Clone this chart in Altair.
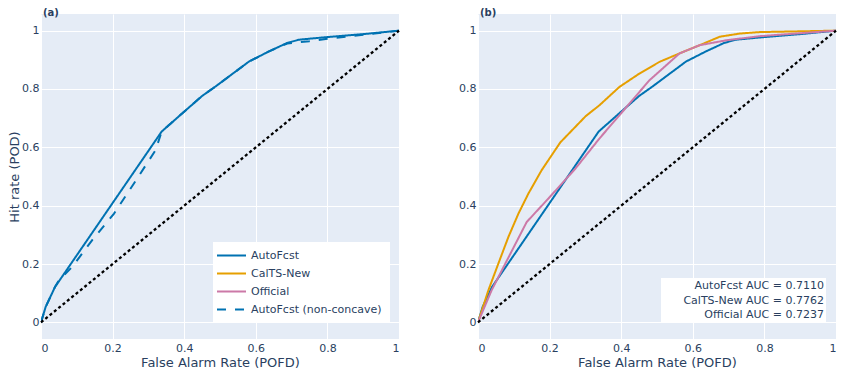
import altair as alt
import pandas as pd

# ---------------- data ----------------
series_names = ["AutoFcst", "CalTS-New", "Official", "AutoFcst (non-concave)"]
series_colors = ["#0072B2", "#E69F00", "#CC79A7", "#0072B2"]
series_dash = [[1, 0], [1, 0], [1, 0], [9, 9]]

auto_fpr = [0, 0.013, 0.039, 0.337, 0.395, 0.45, 0.488, 0.581, 0.637, 0.688, 0.721, 0.80, 0.90, 1.0]
auto_pod = [0, 0.053, 0.121, 0.654, 0.717, 0.776, 0.809, 0.894, 0.929, 0.958, 0.969, 0.978, 0.988, 1.0]

nonc_fpr = [0, 0.013, 0.039, 0.05, 0.087, 0.143, 0.204, 0.26, 0.32, 0.337, 0.395, 0.45, 0.488,
            0.581, 0.637, 0.688, 0.75, 0.80, 0.90, 1.0]
nonc_pod = [0, 0.053, 0.121, 0.144, 0.19, 0.282, 0.373, 0.477, 0.59, 0.654, 0.717, 0.776, 0.809,
            0.894, 0.929, 0.956, 0.964, 0.972, 0.986, 1.0]

cal_fpr = [0, 0.029, 0.057, 0.085, 0.113, 0.141, 0.178, 0.23, 0.301, 0.339, 0.395, 0.451, 0.507,
           0.563, 0.619, 0.675, 0.731, 0.787, 1.0]
cal_pod = [0, 0.11, 0.202, 0.293, 0.373, 0.442, 0.522, 0.617, 0.707, 0.744, 0.807, 0.853, 0.893,
           0.922, 0.950, 0.979, 0.990, 0.995, 1.0]

off_fpr = [0, 0.038, 0.136, 0.197, 0.272, 0.339, 0.395, 0.479, 0.563, 0.619, 0.694, 0.787, 1.0]
off_pod = [0, 0.11, 0.344, 0.425, 0.527, 0.630, 0.710, 0.830, 0.922, 0.950, 0.967, 0.981, 1.0]

diag = [0, 1]

auc_names = ["AutoFcst", "CalTS-New", "Official"]
auc_values = [0.7110, 0.7762, 0.7237]

tick_vals = [0, 0.2, 0.4, 0.6, 0.8, 1]
panel_labels = ["(a)", "(b)"]

# ---------------- style ----------------
TXT = "#2a3f5f"
FONT = "DejaVu Sans"
W, H = 358, 325


def curve(name, fpr, pod):
    return pd.DataFrame({"series": name, "fpr": fpr, "pod": pod, "i": list(range(len(fpr)))})


def xenc():
    return alt.X("fpr:Q", scale=alt.Scale(domain=[0, 1], nice=False, zero=False),
                 axis=alt.Axis(values=tick_vals, format="~g", title="False Alarm Rate (POFD)",
                               labelPadding=3, titlePadding=3))


def yenc(with_title):
    if with_title:
        ax = alt.Axis(values=tick_vals, format="~g", title="Hit rate (POD)", labelPadding=2,
                      titlePadding=0)
    else:
        ax = alt.Axis(values=tick_vals, format="~g", title=None, labelPadding=2)
    return alt.Y("pod:Q", scale=alt.Scale(domain=[-0.057, 1.057], nice=False, zero=False), axis=ax)


def lines_layer(df, with_title):
    return alt.Chart(df).mark_line(strokeWidth=2, clip=True).encode(
        x=xenc(), y=yenc(with_title),
        color=alt.Color("series:N", scale=alt.Scale(domain=series_names, range=series_colors),
                        legend=None),
        strokeDash=alt.StrokeDash("series:N", scale=alt.Scale(domain=series_names, range=series_dash),
                                  legend=None),
        detail="series:N",
        order=alt.Order("i:Q"),
    )


def diag_layer():
    d = pd.DataFrame({"fpr": diag, "pod": diag})
    return alt.Chart(d).mark_line(color="black", strokeWidth=2.3, strokeDash=[3, 2.6]).encode(
        x="fpr:Q", y="pod:Q")


def label_layer(text):
    return alt.Chart(pd.DataFrame({"t": [text]})).mark_text(
        align="left", baseline="top", fontSize=10, fontWeight="bold", color=TXT, font=FONT
    ).encode(x=alt.value(2), y=alt.value(-6), text="t:N")


one = pd.DataFrame({"k": [0]})

# ---------------- panel (a) ----------------
df_a = pd.concat([curve("AutoFcst", auto_fpr, auto_pod),
                  curve("AutoFcst (non-concave)", nonc_fpr, nonc_pod)])

legend_layers = [alt.Chart(one).mark_rect(color="white").encode(
    x=alt.value(172), x2=alt.value(349), y=alt.value(228), y2=alt.value(308))]
for k, name in enumerate(series_names):
    yy = 241.5 + 18 * k
    legend_layers.append(alt.Chart(one).mark_rule(
        color=series_colors[k], strokeWidth=2, strokeDash=series_dash[k]).encode(
        x=alt.value(176), x2=alt.value(205), y=alt.value(yy)))
    legend_layers.append(alt.Chart(pd.DataFrame({"t": [name]})).mark_text(
        align="left", baseline="middle", fontSize=11, color=TXT, font=FONT).encode(
        x=alt.value(210), y=alt.value(yy), text="t:N"))

panel_a = alt.layer(lines_layer(df_a, True), diag_layer(), *legend_layers,
                    label_layer(panel_labels[0])).properties(width=W, height=H)

# ---------------- panel (b) ----------------
df_b = pd.concat([curve("AutoFcst", auto_fpr, auto_pod),
                  curve("CalTS-New", cal_fpr, cal_pod),
                  curve("Official", off_fpr, off_pod)])

ann_layers = [alt.Chart(one).mark_rect(color="white").encode(
    x=alt.value(183), x2=alt.value(348), y=alt.value(264), y2=alt.value(308))]
for k, (name, v) in enumerate(zip(auc_names, auc_values)):
    ann_layers.append(alt.Chart(pd.DataFrame({"t": [f"{name} AUC = {v:.4f}"]})).mark_text(
        align="right", baseline="middle", fontSize=11, color=TXT, font=FONT).encode(
        x=alt.value(346), y=alt.value(272 + 14.5 * k), text="t:N"))

panel_b = alt.layer(lines_layer(df_b, False), diag_layer(), *ann_layers,
                    label_layer(panel_labels[1])).properties(width=W, height=H)

chart = alt.hconcat(panel_a, panel_b, spacing=54).resolve_scale(
    color="independent", strokeDash="independent"
).properties(padding=0).configure_view(
    fill="#E5ECF6", stroke=None
).configure_axis(
    grid=True, gridColor="white", gridWidth=1, domain=False, ticks=False, tickSize=0,
    labelColor=TXT, titleColor=TXT, labelFont=FONT, titleFont=FONT,
    labelFontSize=11, titleFontSize=13, titleFontWeight="normal"
)

chart.save("out.html", embed_options={"renderer": "svg", "actions": False})
